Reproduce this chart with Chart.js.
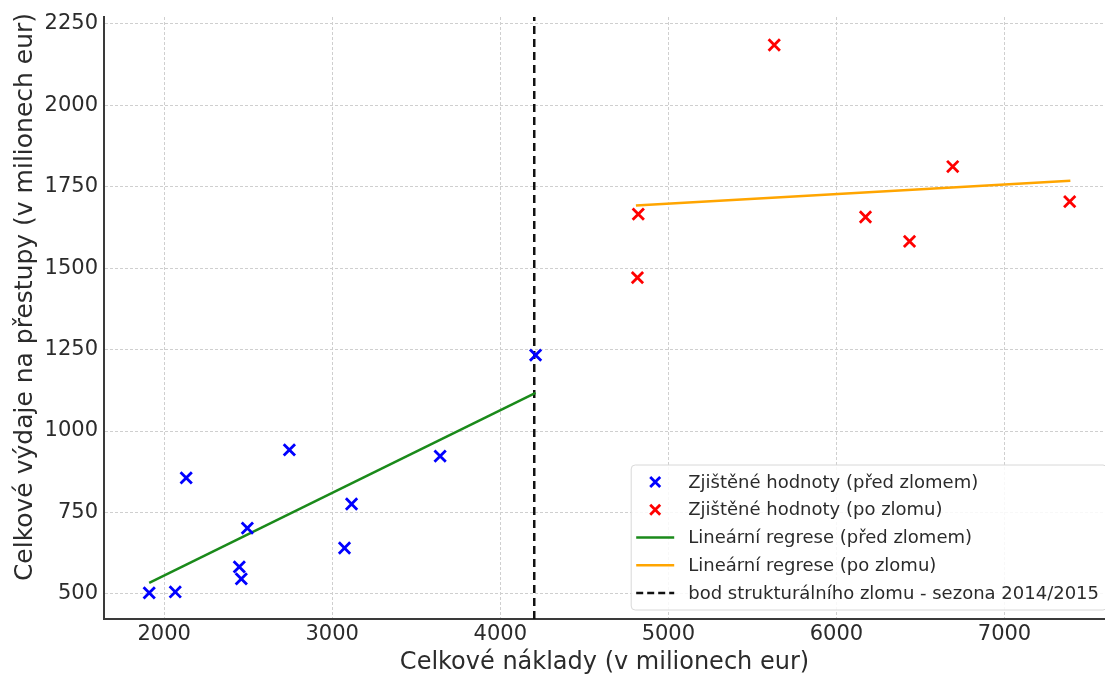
<!DOCTYPE html>
<html>
<head>
<meta charset="utf-8">
<script src="https://cdn.jsdelivr.net/npm/chart.js@4"></script>
<style>
  html, body { margin: 0; padding: 0; background: #fff; overflow: hidden; }
  #wrap { width: 1105px; height: 675px; position: relative; }
</style>
</head>
<body>
<div id="wrap"><canvas id="graf"></canvas></div>
<script>
// hodnoty
const predX = [1911, 2066, 2131, 2447, 2459, 2495, 2745, 3073, 3115, 3642, 4210];
const predY = [503, 506, 856, 583, 546, 702, 942, 641, 776, 923, 1233];
const poX = [4816, 4821, 5630, 6173, 6435, 6692, 7388];
const poY = [1471, 1666, 2185, 1657, 1582, 1812, 1704];

// regresní přímky (koncové body)
const regPredX = [1911, 4210];
const regPredY = [534, 1117];
const regPoX = [4807, 7392];
const regPoY = [1692, 1768];

const zlomX = 4202;
const xMin = 1642, xMax = 7598;
const yMin = 423, yMax = 2271;

const xTicks = [2000, 3000, 4000, 5000, 6000, 7000];
const yTicks = [500, 750, 1000, 1250, 1500, 1750, 2000, 2250];

const labels = [
    'Zjištěné hodnoty (před zlomem)',
    'Zjištěné hodnoty (po zlomu)',
    'Lineární regrese (před zlomem)',
    'Lineární regrese (po zlomu)',
    'bod strukturálního zlomu - sezona 2014/2015'
];
const xTitle = 'Celkové náklady (v milionech eur)';
const yTitle = 'Celkové výdaje na přestupy (v milionech eur)';

const body = (xs, ys) => xs.map((x, i) => ({ x: x, y: ys[i] }));

const font = 'DejaVu Sans';
const textColor = '#2b2b2b';

// popisek osy y, posunutý kousek nahoru jako v předloze
const osaYPlugin = {
    id: 'osaY',
    afterDraw(chart) {
        const c = chart.ctx;
        const area = chart.chartArea;
        c.save();
        c.font = '25px "' + font + '"';
        c.fillStyle = textColor;
        c.textAlign = 'center';
        c.textBaseline = 'middle';
        c.translate(25, (area.top + area.bottom) / 2 - 21);
        c.rotate(-Math.PI / 2);
        c.fillText(yTitle, 0, 0);
        c.restore();
    }
};

// vlastní legenda vpravo dole v ploše grafu
const legendaPlugin = {
    id: 'legenda',
    afterDraw(chart) {
        const c = chart.ctx;
        const area = chart.chartArea;
        const styles = [
            { type: 'x', color: '#0000ff' },
            { type: 'x', color: '#ff0000' },
            { type: 'line', color: '#1a8a1a' },
            { type: 'line', color: '#ffa500' },
            { type: 'dash', color: '#111' }
        ];
        c.save();
        c.font = '18px "' + font + '"';
        let maxW = 0;
        labels.forEach(l => { maxW = Math.max(maxW, c.measureText(l).width); });
        const rowH = 27.8, padY = 3;
        const padX = 5, handleW = 38, gap = 14;
        const w = padX + handleW + gap + maxW + 8;
        const h = rowH * labels.length + padY * 2;
        const bottom = area.bottom - 9;
        const left = area.right + 2 - w;
        const top = bottom - h;
        c.fillStyle = 'rgba(255,255,255,0.85)';
        c.strokeStyle = '#d8d8d8';
        c.lineWidth = 1;
        c.beginPath();
        c.roundRect(left, top, w, h, 4);
        c.fill();
        c.stroke();
        labels.forEach((l, i) => {
            const cy = top + padY + rowH * (i + 0.5);
            const hx = left + padX;
            const s = styles[i];
            c.strokeStyle = s.color;
            if (s.type === 'x') {
                const mx = hx + handleW / 2, r = 5;
                c.lineWidth = 2.8;
                c.beginPath();
                c.moveTo(mx - r, cy - r); c.lineTo(mx + r, cy + r);
                c.moveTo(mx + r, cy - r); c.lineTo(mx - r, cy + r);
                c.stroke();
            } else {
                c.lineWidth = 2.5;
                c.setLineDash(s.type === 'dash' ? [7, 4] : []);
                c.beginPath();
                c.moveTo(hx, cy); c.lineTo(hx + handleW, cy);
                c.stroke();
                c.setLineDash([]);
            }
            c.fillStyle = textColor;
            c.textBaseline = 'middle';
            c.fillText(l, hx + handleW + gap, cy + 1);
        });
        c.restore();
    }
};

const ctx = document.getElementById('graf').getContext('2d');

new Chart(ctx, {
    type: 'scatter',
    data: {
        datasets: [
            {
                label: labels[0],
                data: body(predX, predY),
                pointStyle: 'crossRot',
                pointRadius: 8,
                pointHoverRadius: 8,
                borderColor: '#0000ff',
                backgroundColor: '#0000ff',
                pointBorderWidth: 2.8,
                order: 1
            },
            {
                label: labels[1],
                data: body(poX, poY),
                pointStyle: 'crossRot',
                pointRadius: 8,
                pointHoverRadius: 8,
                borderColor: '#ff0000',
                backgroundColor: '#ff0000',
                pointBorderWidth: 2.8,
                order: 1
            },
            {
                label: labels[2],
                type: 'line',
                data: body(regPredX, regPredY),
                borderColor: '#1a8a1a',
                borderWidth: 2.5,
                pointRadius: 0,
                fill: false,
                order: 2
            },
            {
                label: labels[3],
                type: 'line',
                data: body(regPoX, regPoY),
                borderColor: '#ffa500',
                borderWidth: 2.5,
                pointRadius: 0,
                fill: false,
                order: 2
            },
            {
                label: labels[4],
                type: 'line',
                data: [{ x: zlomX, y: yMin }, { x: zlomX, y: yMax }],
                borderColor: '#111',
                borderWidth: 2.5,
                borderDash: [8, 5],
                pointRadius: 0,
                fill: false,
                order: 3
            }
        ]
    },
    options: {
        responsive: true,
        maintainAspectRatio: false,
        animation: false,
        layout: {
            autoPadding: false,
            padding: { top: 17, right: 0, left: 0, bottom: 0 }
        },
        plugins: {
            legend: { display: false },
            tooltip: { enabled: false }
        },
        scales: {
            x: {
                type: 'linear',
                min: xMin,
                max: xMax,
                afterBuildTicks: (scale) => {
                    scale.ticks = xTicks.map(v => ({ value: v }));
                },
                afterFit: (scale) => {
                    scale.height = 56;
                    scale.paddingLeft = 0;
                    scale.paddingRight = 0;
                },
                border: { display: true, color: '#3a3a3a', width: 2, dash: [3, 2] },
                grid: {
                    color: '#cfcfcf',
                    lineWidth: 1,
                    drawTicks: false
                },
                ticks: {
                    color: textColor,
                    font: { family: font, size: 21 },
                    padding: 3,
                    maxRotation: 0,
                    callback: (v) => String(v)
                },
                title: {
                    display: true,
                    text: xTitle,
                    color: textColor,
                    font: { family: font, size: 24 },
                    padding: { top: 0, bottom: -2 }
                }
            },
            y: {
                type: 'linear',
                min: yMin,
                max: yMax,
                afterBuildTicks: (scale) => {
                    scale.ticks = yTicks.map(v => ({ value: v }));
                },
                afterFit: (scale) => {
                    scale.width = 104;
                    scale.paddingTop = 0;
                    scale.paddingBottom = 0;
                },
                border: { display: true, color: '#3a3a3a', width: 2, dash: [3, 2] },
                grid: {
                    color: '#cfcfcf',
                    lineWidth: 1,
                    drawTicks: false
                },
                ticks: {
                    color: textColor,
                    font: { family: font, size: 21 },
                    padding: 6,
                    callback: (v) => String(v)
                },
                title: { display: false }
            }
        }
    },
    plugins: [osaYPlugin, legendaPlugin]
});
</script>
</body>
</html>
